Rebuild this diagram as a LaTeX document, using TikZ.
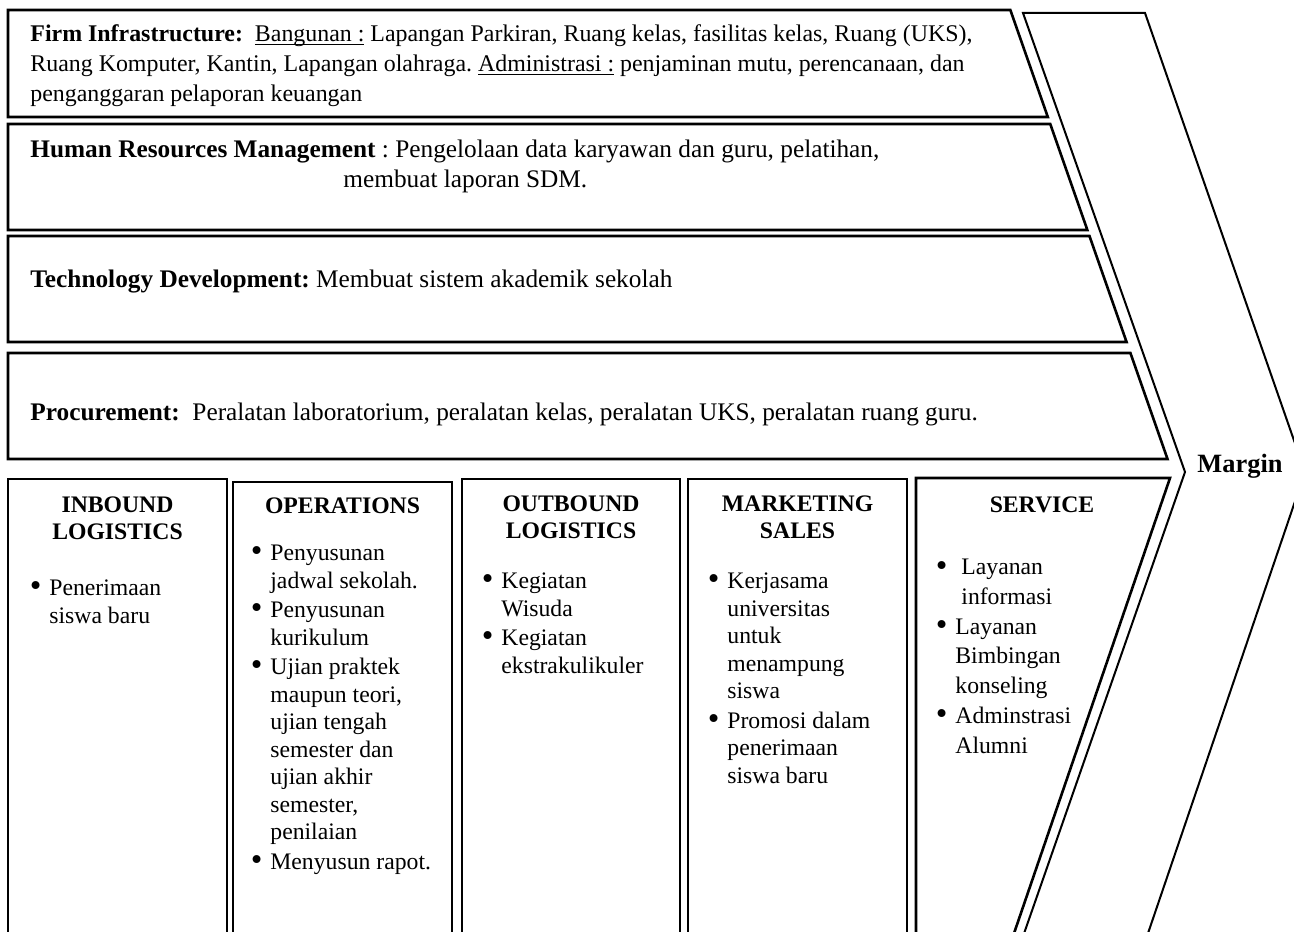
\documentclass[tikz,border=0pt]{standalone}
\usepackage{fontspec}
\setmainfont{Liberation Serif}
\newcommand{\vbul}{\llap{\raisebox{-0.6pt}{\scalebox{1.4}{\textbullet}}\hspace{4pt}}}
\newlength{\undlwd}
\newcommand{\undl}[1]{\settowidth{\undlwd}{#1}\rlap{\rule[-1.6pt]{\undlwd}{0.55pt}}#1}
\begin{document}
\frenchspacing
\begin{tikzpicture}[x=0.5pt,y=-0.5pt,
    box/.style={line width=1.3pt,line join=miter},
    arrowline/.style={line width=1pt},
    txt/.style={inner sep=0pt,anchor=base west,align=left,font={\fontsize{12.65}{15}\selectfont}},
    head/.style={inner sep=0pt,anchor=base,align=center,font={\fontsize{11.85}{13.5}\selectfont\bfseries}},
    lst/.style={inner sep=0pt,anchor=base west,align=left,font={\fontsize{11.85}{13.75}\selectfont}}]
    \useasboundingbox (0,0) rectangle (1294,931);
    \clip (0,0) rectangle (1294,931);
    \fill[white] (0,0) rectangle (1294,931);

    \draw[box] (8,10) -- (1010.35,10) -- (1047.8,117) -- (8,117) -- cycle;
    \draw[box] (8,124) -- (1050.25,124) -- (1087.35,230) -- (8,230) -- cycle;
    \draw[box] (8,236) -- (1089.45,236) -- (1126.55,342) -- (8,342) -- cycle;
    \draw[box] (8,353) -- (1130.4,353) -- (1167.5,459) -- (8,459) -- cycle;

    \draw[arrowline] (1020,945) -- (1185,472) -- (1023,13) -- (1145,13) -- (1305,472) -- (1144,945);

    \draw[box] (8,479) rectangle (227,945);
    \draw[box] (233,482) rectangle (452,945);
    \draw[box] (462,479) rectangle (680,945);
    \draw[box] (688,479) rectangle (907,945);
    \draw[box] (916,945) -- (916,478) -- (1170,478) -- (1010,945);

    \node[txt,font={\fontsize{11.95}{15}\selectfont}] (firm) at (30,102) {\textbf{Firm Infrastructure:}\ \ \undl{Bangunan :} Lapangan Parkiran, Ruang kelas, fasilitas kelas, Ruang (UKS),\\Ruang Komputer, Kantin, Lapangan olahraga. \undl{Administrasi :} penjaminan mutu, perencanaan, dan\\penganggaran pelaporan keuangan};
    \node[txt] (hrm) at (30,187) {\textbf{Human Resources Management} : Pengelolaan data karyawan dan guru, pelatihan,\\\hspace*{156.5pt}membuat laporan SDM.};
    \node[txt] (tech) at (30,287) {\textbf{Technology Development:} Membuat sistem akademik sekolah};
    \node[txt] (proc) at (30,420) {\textbf{Procurement:}\ \ Peralatan laboratorium, peralatan kelas, peralatan UKS, peralatan ruang guru.};

    \node[head] (inb) at (117.5,539) {INBOUND\\LOGISTICS};
    \node[head] (ops) at (342.5,513) {OPERATIONS};
    \node[head] (outb) at (571,538) {OUTBOUND\\LOGISTICS};
    \node[head] (mkt) at (797.5,538) {MARKETING\\SALES};
    \node[head] (serv) at (1042,512) {SERVICE};
    \node[head,font={\fontsize{13.2}{15}\selectfont\bfseries}] (margin) at (1240,472) {Margin};

    \node[lst] (inblist) at (49,623) {\vbul Penerimaan\\siswa baru};
    \node[lst] (opslist) at (270,869) {\vbul Penyusunan\\jadwal sekolah.\\[1pt]\vbul Penyusunan\\kurikulum\\[1pt]\vbul Ujian praktek\\maupun teori,\\ujian tengah\\semester dan\\ujian akhir\\semester,\\penilaian\\[1pt]\vbul Menyusun rapot.};
    \node[lst] (outblist) at (501,673) {\vbul Kegiatan\\Wisuda\\[1pt]\vbul Kegiatan\\ekstrakulikuler};
    \node[lst] (mktlist) at (727,783) {\vbul Kerjasama\\universitas\\untuk\\menampung\\siswa\\[1pt]\vbul Promosi dalam\\penerimaan\\siswa baru};
    \node[lst,font={\fontsize{11.85}{14.85}\selectfont}] (servlist) at (955,753) {\vbul\hspace*{3pt}Layanan\\\hspace*{3pt}informasi\\\vbul Layanan\\Bimbingan\\konseling\\\vbul Adminstrasi\\Alumni};
\end{tikzpicture}
\end{document}
